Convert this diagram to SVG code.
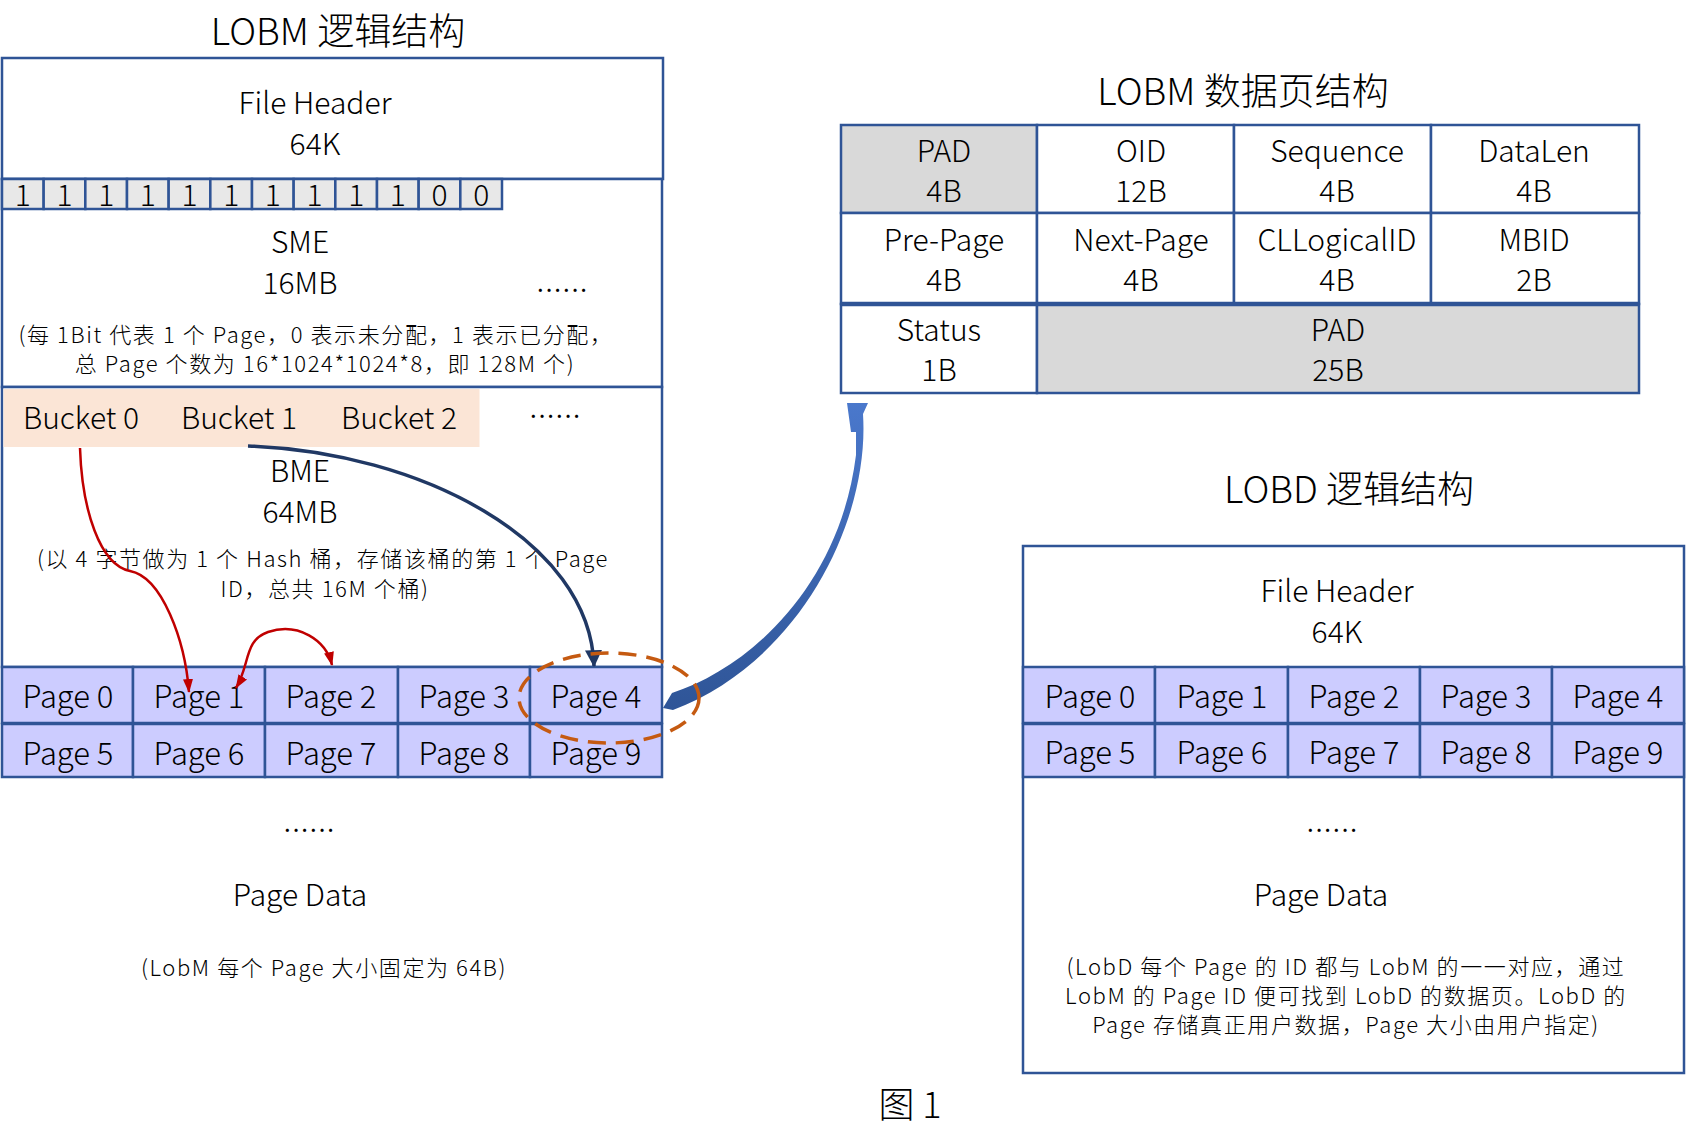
<svg xmlns="http://www.w3.org/2000/svg" width="1686" height="1134" viewBox="0 0 1686 1134">
<style>
.t{font-family:"Noto Sans CJK SC","Noto Sans",sans-serif;fill:#000;text-anchor:middle;dominant-baseline:central;font-weight:300}
.ti{font-size:37px}
.b{font-size:30px}
.n{font-size:22px;letter-spacing:1.6px}
.p{font-size:31px}
.dots{font-family:"Noto Sans CJK SC","Noto Sans",sans-serif;font-size:24px;font-weight:400;text-anchor:middle}
.box{fill:#fff;stroke:#2f5496;stroke-width:2.5}
.bit{fill:#e8e8e8;stroke:#2f5496;stroke-width:2.5}
.page{fill:#ccccff;stroke:#2f5496;stroke-width:2.5}
.pad{fill:#d9d9d9;stroke:#2f5496;stroke-width:2.5}
.cell{fill:#fff;stroke:#2f5496;stroke-width:2.5}
.red{fill:none;stroke:#c00000;stroke-width:2.5}
.navy{fill:none;stroke:#203864;stroke-width:3.5}
</style>
<defs>
<marker id="arR" viewBox="0 0 14 10" refX="13" refY="5" markerWidth="14" markerHeight="11" markerUnits="userSpaceOnUse" orient="auto-start-reverse">
<path d="M0,0 L14,5 L0,10 z" fill="#c00000"/>
</marker>
<marker id="arN" viewBox="0 0 14 14" refX="13" refY="7" markerWidth="17" markerHeight="17" markerUnits="userSpaceOnUse" orient="auto">
<path d="M0,0 L14,7 L0,14 z" fill="#203864"/>
</marker>
<linearGradient id="bg" x1="0" y1="0" x2="0" y2="1">
<stop offset="0" stop-color="#4a78cc"/>
<stop offset="1" stop-color="#2f5597"/>
</linearGradient>
</defs>

<g id="lobm-title"><text class="t ti" x="338" y="29">LOBM 逻辑结构</text></g>

<g id="lobm-fileheader">
<rect class="box" x="2" y="58" width="661" height="121"/>
<text class="t b"><tspan x="315" y="101">File Header</tspan><tspan x="315" y="142">64K</tspan></text>
</g>

<g id="sme">
<rect class="box" x="2" y="179" width="660" height="208"/>
<g id="bits">
<rect class="bit" x="2" y="179" width="41.67" height="30"/>
<rect class="bit" x="43.67" y="179" width="41.67" height="30"/>
<rect class="bit" x="85.33" y="179" width="41.67" height="30"/>
<rect class="bit" x="127" y="179" width="41.67" height="30"/>
<rect class="bit" x="168.67" y="179" width="41.67" height="30"/>
<rect class="bit" x="210.33" y="179" width="41.67" height="30"/>
<rect class="bit" x="252" y="179" width="41.67" height="30"/>
<rect class="bit" x="293.67" y="179" width="41.67" height="30"/>
<rect class="bit" x="335.33" y="179" width="41.67" height="30"/>
<rect class="bit" x="377" y="179" width="41.67" height="30"/>
<rect class="bit" x="418.67" y="179" width="41.67" height="30"/>
<rect class="bit" x="460.33" y="179" width="41.67" height="30"/>
<text class="t b" x="22.8" y="193">1</text>
<text class="t b" x="64.5" y="193">1</text>
<text class="t b" x="106.2" y="193">1</text>
<text class="t b" x="147.8" y="193">1</text>
<text class="t b" x="189.5" y="193">1</text>
<text class="t b" x="231.2" y="193">1</text>
<text class="t b" x="272.8" y="193">1</text>
<text class="t b" x="314.5" y="193">1</text>
<text class="t b" x="356.2" y="193">1</text>
<text class="t b" x="397.8" y="193">1</text>
<text class="t b" x="439.5" y="193">0</text>
<text class="t b" x="481.2" y="193">0</text>
</g>
<text class="t b"><tspan x="300" y="240">SME</tspan><tspan x="300" y="281">16MB</tspan></text>
<text class="dots" x="562" y="292" textLength="50">......</text>
<text class="t n"><tspan x="316" y="333">(每 1Bit 代表 1 个 Page，0 表示未分配，1 表示已分配，</tspan><tspan x="325" y="362">总 Page 个数为 16*1024*1024*8，即 128M 个)</tspan></text>
</g>

<g id="bme">
<rect class="box" x="2" y="387" width="660" height="280"/>
<rect x="3.5" y="389" width="476" height="58" fill="#fbe5d6"/>
<text class="t b" x="81" y="416">Bucket 0</text>
<text class="t b" x="239" y="416">Bucket 1</text>
<text class="t b" x="399" y="416">Bucket 2</text>
<text class="dots" x="555" y="418" textLength="50">......</text>
<text class="t b"><tspan x="300" y="469">BME</tspan><tspan x="300" y="510">64MB</tspan></text>
<text class="t n"><tspan x="323" y="557">(以 4 字节做为 1 个 Hash 桶，存储该桶的第 1 个 Page</tspan><tspan x="325" y="587">ID，总共 16M 个桶)</tspan></text>
</g>

<g id="lobm-pages">
<rect class="page" x="2" y="667" width="131" height="56"/>
<rect class="page" x="133" y="667" width="132" height="56"/>
<rect class="page" x="265" y="667" width="133" height="56"/>
<rect class="page" x="398" y="667" width="132" height="56"/>
<rect class="page" x="530" y="667" width="132" height="56"/>
<rect class="page" x="2" y="724" width="131" height="53"/>
<rect class="page" x="133" y="724" width="132" height="53"/>
<rect class="page" x="265" y="724" width="133" height="53"/>
<rect class="page" x="398" y="724" width="132" height="53"/>
<rect class="page" x="530" y="724" width="132" height="53"/>
<text class="t p" x="68" y="694">Page 0</text>
<text class="t p" x="199" y="694">Page 1</text>
<text class="t p" x="331" y="694">Page 2</text>
<text class="t p" x="464" y="694">Page 3</text>
<text class="t p" x="596" y="694">Page 4</text>
<text class="t p" x="68" y="751">Page 5</text>
<text class="t p" x="199" y="751">Page 6</text>
<text class="t p" x="331" y="751">Page 7</text>
<text class="t p" x="464" y="751">Page 8</text>
<text class="t p" x="596" y="751">Page 9</text>
</g>

<g id="lobm-pagedata">
<text class="dots" x="309" y="832" textLength="50">......</text>
<text class="t b" x="300" y="893">Page Data</text>
<text class="t n" x="324" y="966">(LobM 每个 Page 大小固定为 64B)</text>
</g>

<g id="page-struct">
<text class="t ti" x="1243" y="89">LOBM 数据页结构</text>
<rect class="pad" x="841" y="125" width="196" height="88"/>
<rect class="cell" x="1037" y="125" width="197" height="88"/>
<rect class="cell" x="1234" y="125" width="197" height="88"/>
<rect class="cell" x="1431" y="125" width="208" height="88"/>
<rect class="cell" x="841" y="213" width="196" height="91"/>
<rect class="cell" x="1037" y="213" width="197" height="91"/>
<rect class="cell" x="1234" y="213" width="197" height="91"/>
<rect class="cell" x="1431" y="213" width="208" height="91"/>
<rect class="cell" x="841" y="304" width="196" height="89"/>
<rect class="pad" x="1037" y="304" width="602" height="89"/>
<line x1="841" y1="304" x2="1639" y2="304" stroke="#2f5496" stroke-width="4.5"/>
<text class="t b"><tspan x="944" y="149">PAD</tspan><tspan x="944" y="189">4B</tspan></text>
<text class="t b"><tspan x="1141" y="149">OID</tspan><tspan x="1141" y="189">12B</tspan></text>
<text class="t b"><tspan x="1337" y="149">Sequence</tspan><tspan x="1337" y="189">4B</tspan></text>
<text class="t b"><tspan x="1534" y="149">DataLen</tspan><tspan x="1534" y="189">4B</tspan></text>
<text class="t b"><tspan x="944" y="238">Pre-Page</tspan><tspan x="944" y="278">4B</tspan></text>
<text class="t b"><tspan x="1141" y="238">Next-Page</tspan><tspan x="1141" y="278">4B</tspan></text>
<text class="t b"><tspan x="1337" y="238">CLLogicalID</tspan><tspan x="1337" y="278">4B</tspan></text>
<text class="t b"><tspan x="1534" y="238">MBID</tspan><tspan x="1534" y="278">2B</tspan></text>
<text class="t b"><tspan x="939" y="328">Status</tspan><tspan x="939" y="368">1B</tspan></text>
<text class="t b"><tspan x="1338" y="328">PAD</tspan><tspan x="1338" y="368">25B</tspan></text>
</g>

<g id="lobd">
<text class="t ti" x="1349" y="487">LOBD 逻辑结构</text>
<rect class="box" x="1023" y="546" width="661" height="527"/>
<text class="t b"><tspan x="1337" y="589">File Header</tspan><tspan x="1337" y="630">64K</tspan></text>
<rect class="page" x="1023" y="667" width="132" height="56"/>
<rect class="page" x="1155" y="667" width="133" height="56"/>
<rect class="page" x="1288" y="667" width="132" height="56"/>
<rect class="page" x="1420" y="667" width="132" height="56"/>
<rect class="page" x="1552" y="667" width="132" height="56"/>
<rect class="page" x="1023" y="724" width="132" height="53"/>
<rect class="page" x="1155" y="724" width="133" height="53"/>
<rect class="page" x="1288" y="724" width="132" height="53"/>
<rect class="page" x="1420" y="724" width="132" height="53"/>
<rect class="page" x="1552" y="724" width="132" height="53"/>
<text class="t p" x="1090" y="694">Page 0</text>
<text class="t p" x="1222" y="694">Page 1</text>
<text class="t p" x="1354" y="694">Page 2</text>
<text class="t p" x="1486" y="694">Page 3</text>
<text class="t p" x="1618" y="694">Page 4</text>
<text class="t p" x="1090" y="750">Page 5</text>
<text class="t p" x="1222" y="750">Page 6</text>
<text class="t p" x="1354" y="750">Page 7</text>
<text class="t p" x="1486" y="750">Page 8</text>
<text class="t p" x="1618" y="750">Page 9</text>
<text class="dots" x="1332" y="832" textLength="50">......</text>
<text class="t b" x="1321" y="893">Page Data</text>
<text class="t n"><tspan x="1346" y="965">(LobD 每个 Page 的 ID 都与 LobM 的一一对应，通过</tspan><tspan x="1346" y="994">LobM 的 Page ID 便可找到 LobD 的数据页。LobD 的</tspan><tspan x="1346" y="1023">Page 存储真正用户数据，Page 大小由用户指定)</tspan></text>
</g>

<g id="connectors">
<path class="red" d="M80 448 C82 510 100 565 130 571 C162 577 185 640 189 692" marker-end="url(#arR)"/>
<path class="red" d="M236 688 C250 665 244 640 268 632 C298 622 326 640 332 665" marker-start="url(#arR)" marker-end="url(#arR)"/>
<path class="navy" d="M248 446 C420 452 590 540 594 666" marker-end="url(#arN)"/>
<path d="M672 693 C750 668 840 585 856 455 L856 432 L851 432 L847 403 L868 403 L863 414 C870 520 800 662 673 710 L663 708 Z" fill="url(#bg)"/>
<ellipse cx="609" cy="698" rx="90" ry="45" fill="none" stroke="#c55a11" stroke-width="3.5" stroke-dasharray="18 10"/>
</g>

<g id="caption"><text class="t ti" x="910" y="1102" style="font-size:36px">图 1</text></g>
</svg>
